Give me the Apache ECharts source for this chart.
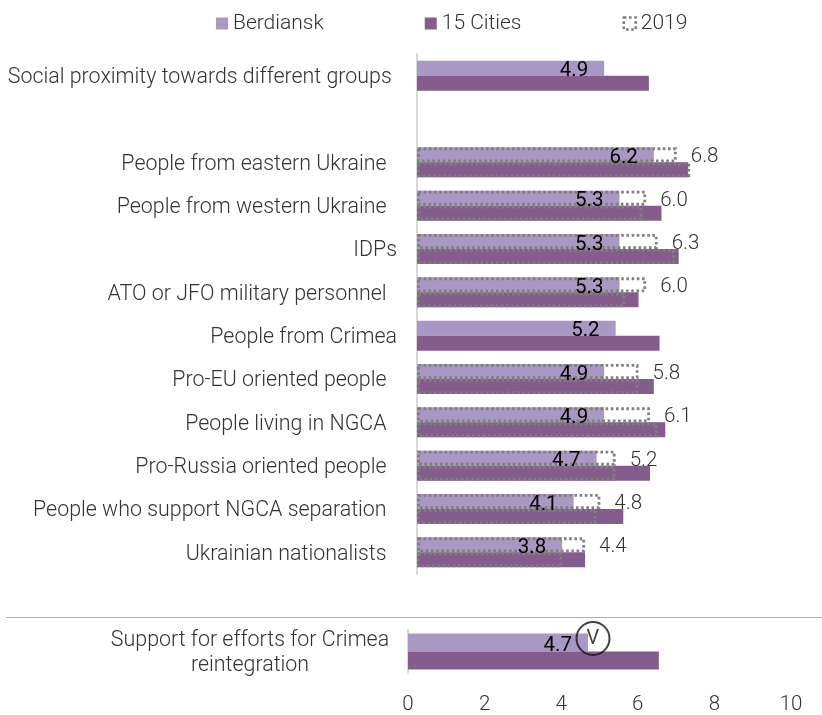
<!DOCTYPE html>
<html><head><meta charset="utf-8">
<style>html,body{margin:0;padding:0;background:#fff}#c{width:822px;height:715px}</style>
<script src="https://cdn.jsdelivr.net/npm/echarts@6/dist/echarts.min.js"></script>
</head><body><div id="c"></div>
<script>
const categories = ["Social proximity towards different groups ", "", "People from eastern Ukraine  ", "People from western Ukraine  ", "IDPs", "ATO or JFO military personnel  ", "People from Crimea", "Pro-EU oriented people  ", "People living in NGCA  ", "Pro-Russia oriented people  ", "People who support NGCA separation  ", "Ukrainian nationalists  "];
const berdiansk = [4.9, null, 6.2, 5.3, 5.3, 5.3, 5.2, 4.9, 4.9, 4.7, 4.1, 3.8];
const cities15 = [6.07, null, 7.1, 6.4, 6.85, 5.8, 6.35, 6.2, 6.5, 6.1, 5.4, 4.4];
const berdiansk2019 = [null, null, 6.8, 6.0, 6.3, 6.0, null, 5.8, 6.1, 5.2, 4.8, 4.4];
const cities2019 = [null, null, 7.15, 5.9, 6.75, 5.45, null, 5.8, 6.3, 5.2, 4.7, 3.8];
const lowerCategory = ["Support for efforts for Crimea\nreintegration"];
const lowerBerdiansk = [4.7];
const lowerCities = [6.55];
const significance = [[4.83, 0]];
const xTicks = [0, 2, 4, 6, 8, 10];

const FONT = 'Roboto';
const TXT = '#333333';
const LIGHT = '#a898c3', DARK = '#845d8c', GREY = '#7f7f7f';
const fill = c => ({color: c});
const dotted = {color: 'rgba(255,255,255,0)', borderColor: GREY, borderWidth: 2.8, borderType: [2.6, 2.6]};
const blackLabel = {show: true, position: 'insideRight', distance: 16, offset: [0, 3], color: '#000', fontFamily: FONT, fontSize: 20.5, fontWeight: 400, formatter: p => p.value == null ? '' : p.value.toFixed(1)};
const greyLabel = {show: true, position: 'right', distance: 14, offset: [0, 2.5], color: TXT, fontFamily: FONT, fontSize: 20.5, fontWeight: 300, formatter: p => p.value == null ? '' : p.value.toFixed(1)};
const richName = v => v.split('\n').map(s => s ? '{a|' + s + '}' : '').join('\n');
const catAxis = (extra, labelExtra, pad, lh) => Object.assign({type: 'category', inverse: true, axisTick: {show: false},
  axisLine: {lineStyle: {color: '#d9d9d9', width: 2}},
  axisLabel: Object.assign({margin: 20, interval: 0, align: 'right', formatter: richName,
    rich: {a: {color: TXT, fontFamily: FONT, fontSize: 21.4, fontWeight: 300, lineHeight: lh, padding: [pad, 0, 0, 0]}}}, labelExtra)}, extra);

const chart = echarts.init(document.getElementById('c'), null, {renderer: 'canvas'});
chart.setOption({
  animation: false,
  backgroundColor: '#fff',
  textStyle: {fontFamily: FONT},
  legend: {left: 216, top: 13, padding: 0, itemWidth: 12, itemHeight: 12, itemGap: 101, icon: 'rect',
    data: ['Berdiansk', '15 Cities', {name: '2019', itemStyle: {color: 'rgba(255,255,255,0)', borderColor: GREY, borderWidth: 2.6, borderType: [2.6, 2.6]}}],
    textStyle: {color: TXT, fontFamily: FONT, fontSize: 21, fontWeight: 300}},
  grid: [
    {left: 417, top: 54, width: 382, height: 520},
    {left: 408, top: 630, width: 383, height: 51}
  ],
  xAxis: [
    {gridIndex: 0, type: 'value', min: 0, max: 10, interval: 2, show: false, splitLine: {show: false}},
    {gridIndex: 1, type: 'value', min: 0, max: 10, interval: 2, splitLine: {show: false}, axisLine: {show: false}, axisTick: {show: false},
      axisLabel: {color: TXT, fontFamily: FONT, fontSize: 20.5, fontWeight: 300, margin: 21, formatter: v => xTicks.includes(v) ? String(v) : ''}}
  ],
  yAxis: [
    catAxis({gridIndex: 0, data: categories}, {}, 4, 21),
    catAxis({gridIndex: 0, data: categories, show: false}, {}, 4, 21),
    catAxis({gridIndex: 1, data: lowerCategory}, {align: 'center', margin: 158}, 3, 25)
  ],
  series: [
    {name: 'Berdiansk', type: 'bar', xAxisIndex: 0, yAxisIndex: 0, data: berdiansk, barWidth: 15, barGap: 0, itemStyle: fill(LIGHT), label: blackLabel},
    {name: '15 Cities', type: 'bar', xAxisIndex: 0, yAxisIndex: 0, data: cities15, barWidth: 15, barGap: 0, itemStyle: fill(DARK)},
    {name: '2019', type: 'bar', xAxisIndex: 0, yAxisIndex: 1, data: berdiansk2019, barWidth: 15, barGap: 0, itemStyle: dotted, label: greyLabel},
    {name: '2019', type: 'bar', xAxisIndex: 0, yAxisIndex: 1, data: cities2019, barWidth: 15, barGap: 0, itemStyle: dotted},
    {name: 'Berdiansk', type: 'bar', xAxisIndex: 1, yAxisIndex: 2, data: lowerBerdiansk, barWidth: 18, barGap: 0, itemStyle: fill(LIGHT), label: blackLabel},
    {name: '15 Cities', type: 'bar', xAxisIndex: 1, yAxisIndex: 2, data: lowerCities, barWidth: 18, barGap: 0, itemStyle: fill(DARK)},
    {name: 'sig', type: 'scatter', xAxisIndex: 1, yAxisIndex: 2, data: significance, symbol: 'circle', symbolSize: 33, symbolOffset: [0, -13], z: 5,
      itemStyle: {color: 'rgba(255,255,255,0)', borderColor: '#111', borderWidth: 2},
      label: {show: true, position: 'inside', formatter: 'V', color: '#111', fontFamily: FONT, fontSize: 20, fontWeight: 400}}
  ],
  graphic: [{type: 'line', silent: true, shape: {x1: 6, y1: 617.5, x2: 822, y2: 617.5}, style: {stroke: '#bf9fd8', lineWidth: 1}}]
});
</script></body></html>
